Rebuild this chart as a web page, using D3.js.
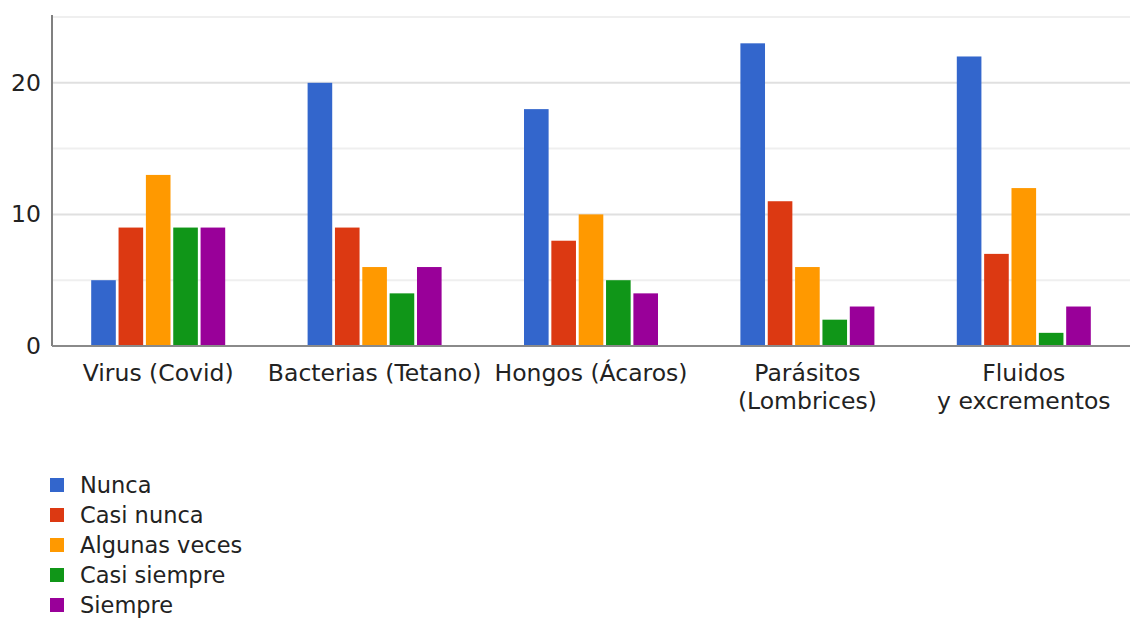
<!DOCTYPE html>
<html><head><meta charset="utf-8">
<script src="https://cdn.jsdelivr.net/npm/d3@7"></script>
<style>body{margin:0;background:#fff;}svg{display:block;} text{font-family:"DejaVu Sans","Verdana",sans-serif;}</style>
</head><body>
<svg id="c" width="1130" height="624"></svg>
<script>
const categories = [["Virus (Covid)"],["Bacterias (Tetano)"],["Hongos (Ácaros)"],["Parásitos","(Lombrices)"],["Fluidos","y excrementos"]];
const series = ["Nunca","Casi nunca","Algunas veces","Casi siempre","Siempre"];
const colors = ["#3366cc","#dc3912","#ff9900","#109618","#990099"];
const nunca = [5,20,18,23,22];
const casiNunca = [9,9,8,11,7];
const algunasVeces = [13,6,10,6,12];
const casiSiempre = [9,4,5,2,1];
const siempre = [9,6,4,3,3];
const values = [nunca,casiNunca,algunasVeces,casiSiempre,siempre];
const yTicks = [0,10,20];
const gridTicks = [5,10,15,20,25];

(function(){
const svg = d3.select("#c");
const fs = 23.5, lfs = 22.5;
const mLeft = 52, mRight = 1132, mTop = 17, mBottom = 346;
const x0 = d3.scaleBand().domain(d3.range(categories.length)).range([mLeft-2, mRight]).paddingInner(0).paddingOuter(0);
const x1 = d3.scaleBand().domain(d3.range(series.length)).range([0, 134]).paddingInner(0.1);
const y = d3.scaleLinear().domain([0,25]).range([mBottom, mTop]);

svg.append("g").selectAll("line").data(gridTicks).join("line")
  .attr("x1", mLeft).attr("x2", 1130).attr("y1", d=>y(d)).attr("y2", d=>y(d))
  .attr("stroke", d=>d%10===0?"#e0e0e0":"#efefef").attr("stroke-width", 2);

const offset = (x0.bandwidth()-134)/2;
const g = svg.append("g");
values.forEach((vals, si) => {
  g.selectAll(null).data(vals).join("rect")
    .attr("x", (d,i)=>x0(i)+offset+x1(si))
    .attr("y", d=>y(d)).attr("width", x1.bandwidth())
    .attr("height", d=>mBottom-y(d)).attr("fill", colors[si]);
});

svg.append("line").attr("x1",mLeft).attr("x2",mLeft).attr("y1",mTop-2).attr("y2",mBottom).attr("stroke","#808080").attr("stroke-width",2);
svg.append("line").attr("x1",mLeft).attr("x2",1130).attr("y1",mBottom).attr("y2",mBottom).attr("stroke","#8a8a8a").attr("stroke-width",2);

const yAxis = d3.axisLeft(y).tickValues(yTicks).tickSize(0).tickPadding(11);
const ya = svg.append("g").attr("transform",`translate(${mLeft},0)`).call(yAxis);
ya.select(".domain").remove();
ya.attr("font-family", null).attr("font-size", null);
ya.selectAll("text").attr("font-size",fs).attr("fill","#222");

const xl = svg.append("g");
categories.forEach((lines,i)=>{
  const cx = x0(i)+x0.bandwidth()/2;
  const t = xl.append("text").attr("x", cx).attr("y",381)
    .attr("text-anchor","middle").attr("font-size",fs).attr("fill","#222");
  lines.forEach((l,k)=>t.append("tspan").attr("x", cx).attr("dy", k===0?0:28).text(l));
});

const lg = svg.append("g");
series.forEach((s,i)=>{
  const base = 493 + i*30;
  lg.append("rect").attr("x",50).attr("y",base-15).attr("width",14).attr("height",14).attr("fill",colors[i]);
  lg.append("text").attr("x",80).attr("y",base).attr("font-size",lfs).attr("fill","#222").text(s);
});
})();
</script>
</body></html>
